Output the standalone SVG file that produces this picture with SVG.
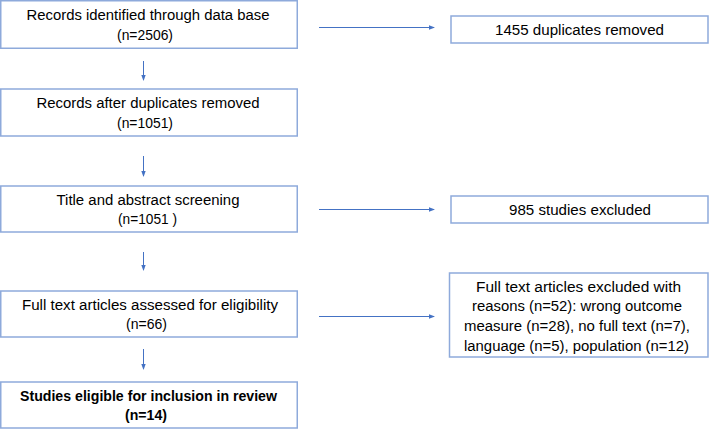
<svg xmlns="http://www.w3.org/2000/svg" width="709" height="429" viewBox="0 0 709 429">
<style>
.box{fill:#fff;stroke:#8eaadb;stroke-width:1.5}
.t{font-family:"Liberation Sans",Arial,sans-serif;font-size:15.5px;fill:#000;text-anchor:middle}
.b{font-weight:bold}
.c{stroke:#4472c4;stroke-width:1;fill:none;marker-end:url(#ah)}
</style>
<defs>
<marker id="ah" viewBox="0 0 6 6" refX="5" refY="3" markerWidth="6" markerHeight="6" markerUnits="userSpaceOnUse" orient="auto">
<path d="M0,0.8 L6,3 L0,5.2 Z" fill="#4472c4"/>
</marker>
</defs>
<rect width="709" height="429" fill="#fff"/>
<g id="connectors">
<line class="c" x1="143.5" y1="61" x2="143.5" y2="80"/>
<line class="c" x1="143.5" y1="156" x2="143.5" y2="176"/>
<line class="c" x1="143.5" y1="252" x2="143.5" y2="270"/>
<line class="c" x1="143.5" y1="349" x2="143.5" y2="369"/>
<line class="c" x1="319" y1="27.5" x2="434" y2="27.5"/>
<line class="c" x1="319" y1="209.5" x2="434" y2="209.5"/>
<line class="c" x1="319" y1="316.5" x2="434" y2="316.5"/>
</g>
<g id="n1">
<rect class="box" x="0.75" y="0.75" width="296.5" height="47.5"/>
<text class="t" x="148" y="20" textLength="243" lengthAdjust="spacingAndGlyphs">Records identified through data base</text>
<text class="t" x="145" y="39.5" textLength="56" lengthAdjust="spacingAndGlyphs">(n=2506)</text>
</g>
<g id="n2">
<rect class="box" x="0.75" y="89" width="296.5" height="47"/>
<text class="t" x="148" y="108" textLength="223" lengthAdjust="spacingAndGlyphs">Records after duplicates removed</text>
<text class="t" x="145" y="127.5" textLength="56" lengthAdjust="spacingAndGlyphs">(n=1051)</text>
</g>
<g id="n3">
<rect class="box" x="0.75" y="186" width="296.5" height="46"/>
<text class="t" x="148" y="205" textLength="183" lengthAdjust="spacingAndGlyphs">Title and abstract screening</text>
<text class="t" x="147.5" y="224" textLength="59" lengthAdjust="spacingAndGlyphs">(n=1051 )</text>
</g>
<g id="n4">
<rect class="box" x="0.75" y="291" width="296.5" height="46"/>
<text class="t" x="150" y="309.5" textLength="256" lengthAdjust="spacingAndGlyphs">Full text articles assessed for eligibility</text>
<text class="t" x="146.5" y="328.5" textLength="41" lengthAdjust="spacingAndGlyphs">(n=66)</text>
</g>
<g id="n5">
<rect class="box" x="0.75" y="382" width="296.5" height="46"/>
<text class="t b" x="148.5" y="401" textLength="257" lengthAdjust="spacingAndGlyphs">Studies eligible for inclusion in review</text>
<text class="t b" x="146" y="420" textLength="42" lengthAdjust="spacingAndGlyphs">(n=14)</text>
</g>
<g id="r1">
<rect class="box" x="451" y="16" width="257" height="27"/>
<text class="t" x="579.5" y="35" textLength="169" lengthAdjust="spacingAndGlyphs">1455  duplicates removed</text>
</g>
<g id="r2">
<rect class="box" x="451" y="196" width="257" height="27"/>
<text class="t" x="580" y="215" textLength="142" lengthAdjust="spacingAndGlyphs">985  studies excluded</text>
</g>
<g id="r3">
<rect class="box" x="449.5" y="273" width="258.5" height="84"/>
<text class="t" x="578.5" y="291.5" textLength="205" lengthAdjust="spacingAndGlyphs">Full text articles excluded with</text>
<text class="t" x="577" y="311" textLength="210" lengthAdjust="spacingAndGlyphs">reasons (n=52): wrong outcome</text>
<text class="t" x="577" y="331" textLength="226" lengthAdjust="spacingAndGlyphs">measure (n=28), no full text (n=7),</text>
<text class="t" x="576.5" y="350.5" textLength="225" lengthAdjust="spacingAndGlyphs">language (n=5), population (n=12)</text>
</g>
</svg>
